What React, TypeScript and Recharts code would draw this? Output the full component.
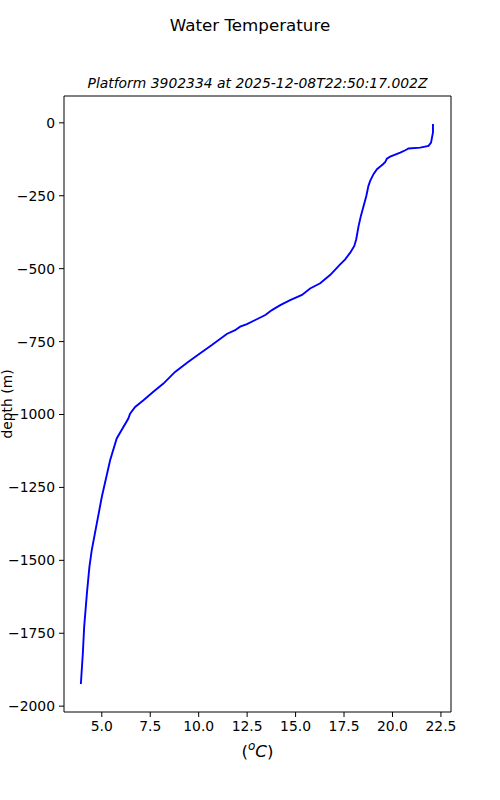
import React from "react";
import {
  ScatterChart,
  Scatter,
  XAxis,
  YAxis,
  ReferenceLine
} from "recharts";

// temperature profile (deg C), top to bottom
const temps = [
  22.09, 22.09, 21.99, 21.86, 21.43, 20.83, 20.66, 20.4, 20.14, 19.88,
  19.71, 19.63, 19.51, 19.37, 19.2, 19.02, 18.85, 18.76, 18.65, 18.51,
  18.37, 18.25, 18.13, 18.03, 17.82, 17.56, 17.3, 16.78, 16.27, 15.75,
  15.33, 14.72, 14.21, 13.78, 13.44, 12.92, 12.49, 12.14, 11.88, 11.45,
  10.68, 10.08, 9.47, 8.78, 8.18, 7.66, 7.15, 6.72, 6.46, 6.37,
  5.77, 5.43, 5.0, 4.48, 4.36, 4.23, 4.09, 4.02, 3.92
];
const depths = [
  -4, -33, -68, -79, -85, -88, -94, -102, -109, -116,
  -123, -134, -142, -150, -159, -176, -199, -216, -251, -285,
  -319, -354, -399, -422, -445, -468, -485, -522, -550, -568,
  -590, -608, -625, -642, -659, -676, -690, -699, -711, -724,
  -762, -790, -819, -854, -894, -922, -951, -974, -997, -1014,
  -1082, -1157, -1283, -1466, -1523, -1615, -1729, -1821, -1924
];

const xTicks = [5, 7.5, 10, 12.5, 15, 17.5, 20, 22.5];
const yTicks = [0, -250, -500, -750, -1000, -1250, -1500, -1750, -2000];

const xDomain = [3.05, 23.02];
const yDomain = [-2020, 92];

const profile = temps.map((t, i) => ({ temp: t, depth: depths[i] }));

const font = "'DejaVu Sans', sans-serif";
const tickStyle = { fill: "#000", fontSize: 13.9, fontFamily: font };

// matplotlib style minus sign
const fmtY = (v: number) => (v < 0 ? "\u2212" + Math.abs(v) : String(v));

const App = () => {
  return (
    <div style={{ position: "absolute", left: 0, top: 0, width: 500, height: 800, background: "#fff", fontFamily: font }}>
      <div style={{ position: "absolute", top: 15, left: 0, width: 500, textAlign: "center", fontSize: 16.7 }}>
        Water Temperature
      </div>
      <div style={{ position: "absolute", top: 75, left: 64, width: 387, textAlign: "center", fontSize: 13.9, fontStyle: "italic" }}>
        Platform 3902334 at 2025-12-08T22:50:17.002Z
      </div>
      <div
        style={{
          position: "absolute",
          left: 7,
          top: 404,
          transform: "translate(-50%, -50%) rotate(-90deg)",
          fontSize: 13.9,
          whiteSpace: "nowrap"
        }}
      >
        depth (m)
      </div>
      <div style={{ position: "absolute", top: 739, left: 64, width: 387, textAlign: "center", fontSize: 16.7 }}>
        (<sup style={{ fontStyle: "italic", fontSize: 12 }}>o</sup><i>C</i>)
      </div>

      <ScatterChart
        width={500}
        height={800}
        margin={{ top: 96, right: 49, bottom: 58, left: 4 }}
      >
        <XAxis
          type="number"
          dataKey="temp"
          domain={xDomain}
          ticks={xTicks}
          allowDataOverflow
          tickFormatter={(v: number) => v.toFixed(1)}
          tick={tickStyle}
          tickSize={5}
          tickMargin={4}
          height={30}
          axisLine={{ stroke: "#000" }}
          tickLine={{ stroke: "#000" }}
        />
        <YAxis
          type="number"
          dataKey="depth"
          domain={yDomain}
          ticks={yTicks}
          allowDataOverflow
          tickFormatter={fmtY}
          tick={tickStyle}
          tickSize={5}
          tickMargin={4}
          width={60}
          axisLine={{ stroke: "#000" }}
          tickLine={{ stroke: "#000" }}
        />
        <ReferenceLine y={yDomain[1]} stroke="#000" />
        <ReferenceLine x={xDomain[1]} stroke="#000" />
        <Scatter
          data={profile}
          line={{ stroke: "#0000ff", strokeWidth: 1.9 }}
          lineType="joint"
          shape={() => <g />}
          isAnimationActive={false}
        />
      </ScatterChart>
    </div>
  );
};

export default App;
